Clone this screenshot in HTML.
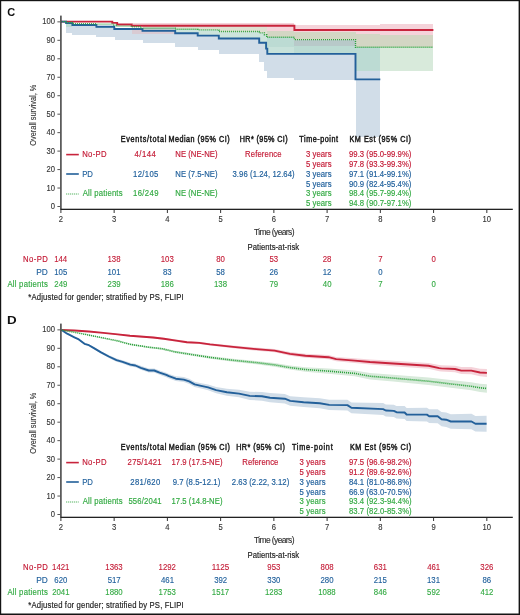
<!DOCTYPE html>
<html><head><meta charset="utf-8"><style>
html,body{margin:0;padding:0;background:#fff;width:520px;height:615px;overflow:hidden}
svg{display:block;font-family:"Liberation Sans",sans-serif;will-change:transform}
</style></head><body>
<svg width="520" height="615" viewBox="0 0 520 615" font-family="Liberation Sans, sans-serif">
<rect width="520" height="615" fill="#fff"/>
<g shape-rendering="crispEdges">
<rect x="66.1" y="23.1" width="6.3" height="3.4" fill="#bcdbd3"/>
<rect x="66.1" y="26.5" width="6.3" height="6.9" fill="#d1dde8"/>
<rect x="72.4" y="25" width="24" height="1.2" fill="#bcdbd3"/>
<rect x="72.4" y="26.2" width="24" height="9.2" fill="#d1dde8"/>
<rect x="96.4" y="26.7" width="15.9" height="0.8" fill="#bcdbd3"/>
<rect x="96.4" y="27.5" width="15.9" height="9.5" fill="#d1dde8"/>
<rect x="112.3" y="26.7" width="2.9" height="10.2" fill="#d1dde8"/>
<rect x="115.2" y="29" width="16.4" height="1.4" fill="#d9cbd3"/>
<rect x="115.2" y="30.4" width="16.4" height="9.2" fill="#d1dde8"/>
<rect x="131.6" y="23.2" width="11.5" height="2.6" fill="#f5d3da"/>
<rect x="131.6" y="29" width="11.5" height="4.8" fill="#d9cbd3"/>
<rect x="131.6" y="33.8" width="11.5" height="5.8" fill="#d1dde8"/>
<rect x="143.1" y="23.2" width="32.1" height="2.6" fill="#f5d3da"/>
<rect x="143.1" y="25.8" width="32.1" height="2.4" fill="#dfe0d2"/>
<rect x="143.1" y="28.2" width="32.1" height="2.7" fill="#b8c9c9"/>
<rect x="143.1" y="30.9" width="32.1" height="3.2" fill="#d9cbd3"/>
<rect x="143.1" y="34.1" width="32.1" height="8.5" fill="#d1dde8"/>
<rect x="175.2" y="23.3" width="22.5" height="2.5" fill="#f5d3da"/>
<rect x="175.2" y="25.8" width="22.5" height="3.5" fill="#dfe0d2"/>
<rect x="175.2" y="29.3" width="22.5" height="3.9" fill="#cde4dc"/>
<rect x="175.2" y="33.2" width="22.5" height="13.3" fill="#d1dde8"/>
<rect x="197.7" y="23.4" width="21.1" height="2.4" fill="#f5d3da"/>
<rect x="197.7" y="25.8" width="21.1" height="4.2" fill="#dfe0d2"/>
<rect x="197.7" y="30" width="21.1" height="5.6" fill="#cde4dc"/>
<rect x="197.7" y="35.6" width="21.1" height="14.1" fill="#d1dde8"/>
<rect x="218.8" y="23.4" width="40.4" height="2.4" fill="#f5d3da"/>
<rect x="218.8" y="25.8" width="40.4" height="5.7" fill="#dfe0d2"/>
<rect x="218.8" y="31.5" width="40.4" height="7" fill="#cde4dc"/>
<rect x="218.8" y="38.5" width="40.4" height="15.6" fill="#d1dde8"/>
<rect x="259.2" y="23.3" width="5.2" height="2.7" fill="#f5d3da"/>
<rect x="259.2" y="26" width="5.2" height="7" fill="#dfe0d2"/>
<rect x="259.2" y="33" width="5.2" height="9.8" fill="#cde4dc"/>
<rect x="259.2" y="42.8" width="5.2" height="19.1" fill="#d1dde8"/>
<rect x="264.4" y="23.3" width="2.3" height="2.7" fill="#f5d3da"/>
<rect x="264.4" y="26" width="2.3" height="8.7" fill="#dfe0d2"/>
<rect x="264.4" y="34.7" width="2.3" height="13.9" fill="#cde4dc"/>
<rect x="264.4" y="48.6" width="2.3" height="22.1" fill="#d1dde8"/>
<rect x="266.7" y="23.3" width="27.7" height="7.2" fill="#f5d3da"/>
<rect x="266.7" y="30.5" width="27.7" height="6.8" fill="#d3d6c4"/>
<rect x="266.7" y="37.3" width="27.7" height="9.5" fill="#bcdbd3"/>
<rect x="266.7" y="46.8" width="27.7" height="5.8" fill="#c8e2da"/>
<rect x="266.7" y="52.6" width="27.7" height="25.7" fill="#d1dde8"/>
<rect x="294.4" y="25.3" width="61.1" height="6.5" fill="#f5d3da"/>
<rect x="294.4" y="31.8" width="61.1" height="7.8" fill="#d3d6c4"/>
<rect x="294.4" y="39.6" width="61.1" height="6.3" fill="#b8c9c9"/>
<rect x="294.4" y="45.9" width="61.1" height="6.7" fill="#bcdbd3"/>
<rect x="294.4" y="52.6" width="61.1" height="26.9" fill="#d1dde8"/>
<rect x="355.5" y="25.3" width="24.8" height="9" fill="#f5d3da"/>
<rect x="355.5" y="34.3" width="24.8" height="12.9" fill="#d3d6c4"/>
<rect x="355.5" y="47.2" width="24.8" height="23.7" fill="#bcdbd3"/>
<rect x="355.5" y="70.9" width="24.8" height="66.1" fill="#d1dde8"/>
<rect x="380.3" y="24.4" width="53.1" height="10.4" fill="#f5d3da"/>
<rect x="380.3" y="34.8" width="53.1" height="12.6" fill="#d3d6c4"/>
<rect x="380.3" y="47.4" width="53.1" height="23.3" fill="#d8eadb"/>
</g>
<path d="M61 21.6H112.3V22.9H117.2V24.5H131.6V25.8H294.4V30H433.4" fill="none" stroke="#c8243c" stroke-width="1.9"/>
<path d="M61 21.6H66.1V23.1H72.4V25H96.4V26.7H114.3V29H142.5V30.9H175.2V33.2H197.7V35.6H218.8V38.5H259.2V42.8H266.1V48.6H267.3V53.9H355.5V79.4H380.3" fill="none" stroke="#23609a" stroke-width="1.9"/>
<path d="M61 21.6H66.1V22.5H72.4V23.7H96.4V24.1H113.8V25.1H116.2V26.1H131.6V26.8H141.2V28.1H175.2V29.2H197.7V29.9H218.8V31.5H259.2V32.9H264.4V34.7H266.7V37.3H294.4V39.6H355.5V47.2H433.4" fill="none" stroke="#2ea33e" stroke-width="1.4" stroke-dasharray="1 1"/>
<text x="7.35" y="15.6" font-size="11.3" fill="#111" font-weight="bold" textLength="7.95" lengthAdjust="spacingAndGlyphs">C</text>
<rect x="60.1" y="15.6" width="1.6" height="194.2" fill="#4a4a4a"/>
<rect x="57.4" y="206" width="3" height="1" fill="#555"/>
<text x="50.86" y="209" font-size="8.2" fill="#333" textLength="4.24" lengthAdjust="spacingAndGlyphs" stroke="#333" stroke-width="0.12">0</text>
<rect x="57.4" y="187.53" width="3" height="1" fill="#555"/>
<text x="46.62" y="190.53" font-size="8.2" fill="#333" textLength="8.48" lengthAdjust="spacingAndGlyphs" stroke="#333" stroke-width="0.12">10</text>
<rect x="57.4" y="169.07" width="3" height="1" fill="#555"/>
<text x="46.62" y="172.07" font-size="8.2" fill="#333" textLength="8.48" lengthAdjust="spacingAndGlyphs" stroke="#333" stroke-width="0.12">20</text>
<rect x="57.4" y="150.6" width="3" height="1" fill="#555"/>
<text x="46.62" y="153.6" font-size="8.2" fill="#333" textLength="8.48" lengthAdjust="spacingAndGlyphs" stroke="#333" stroke-width="0.12">30</text>
<rect x="57.4" y="132.14" width="3" height="1" fill="#555"/>
<text x="46.62" y="135.14" font-size="8.2" fill="#333" textLength="8.48" lengthAdjust="spacingAndGlyphs" stroke="#333" stroke-width="0.12">40</text>
<rect x="57.4" y="113.67" width="3" height="1" fill="#555"/>
<text x="46.62" y="116.67" font-size="8.2" fill="#333" textLength="8.48" lengthAdjust="spacingAndGlyphs" stroke="#333" stroke-width="0.12">50</text>
<rect x="57.4" y="95.21" width="3" height="1" fill="#555"/>
<text x="46.62" y="98.21" font-size="8.2" fill="#333" textLength="8.48" lengthAdjust="spacingAndGlyphs" stroke="#333" stroke-width="0.12">60</text>
<rect x="57.4" y="76.75" width="3" height="1" fill="#555"/>
<text x="46.62" y="79.75" font-size="8.2" fill="#333" textLength="8.48" lengthAdjust="spacingAndGlyphs" stroke="#333" stroke-width="0.12">70</text>
<rect x="57.4" y="58.28" width="3" height="1" fill="#555"/>
<text x="46.62" y="61.28" font-size="8.2" fill="#333" textLength="8.48" lengthAdjust="spacingAndGlyphs" stroke="#333" stroke-width="0.12">80</text>
<rect x="57.4" y="39.81" width="3" height="1" fill="#555"/>
<text x="46.62" y="42.81" font-size="8.2" fill="#333" textLength="8.48" lengthAdjust="spacingAndGlyphs" stroke="#333" stroke-width="0.12">90</text>
<rect x="57.4" y="21.35" width="3" height="1" fill="#555"/>
<text x="42.37" y="24.35" font-size="8.2" fill="#333" textLength="12.72" lengthAdjust="spacingAndGlyphs" stroke="#333" stroke-width="0.12">100</text>
<rect x="60.5" y="208.7" width="452.3" height="1.3" fill="#222"/>
<rect x="60.4" y="209.8" width="1" height="3.2" fill="#333"/>
<text x="58.78" y="222" font-size="8.3" fill="#333" textLength="4.25" lengthAdjust="spacingAndGlyphs" stroke="#333" stroke-width="0.12">2</text>
<rect x="113.64" y="209.8" width="1" height="3.2" fill="#333"/>
<text x="112.04" y="222" font-size="8.3" fill="#333" textLength="4.25" lengthAdjust="spacingAndGlyphs" stroke="#333" stroke-width="0.12">3</text>
<rect x="166.88" y="209.8" width="1" height="3.2" fill="#333"/>
<text x="165.28" y="222" font-size="8.3" fill="#333" textLength="4.25" lengthAdjust="spacingAndGlyphs" stroke="#333" stroke-width="0.12">4</text>
<rect x="220.12" y="209.8" width="1" height="3.2" fill="#333"/>
<text x="218.5" y="222" font-size="8.3" fill="#333" textLength="4.25" lengthAdjust="spacingAndGlyphs" stroke="#333" stroke-width="0.12">5</text>
<rect x="273.36" y="209.8" width="1" height="3.2" fill="#333"/>
<text x="271.71" y="222" font-size="8.3" fill="#333" textLength="4.25" lengthAdjust="spacingAndGlyphs" stroke="#333" stroke-width="0.12">6</text>
<rect x="326.6" y="209.8" width="1" height="3.2" fill="#333"/>
<text x="324.97" y="222" font-size="8.3" fill="#333" textLength="4.25" lengthAdjust="spacingAndGlyphs" stroke="#333" stroke-width="0.12">7</text>
<rect x="379.84" y="209.8" width="1" height="3.2" fill="#333"/>
<text x="378.22" y="222" font-size="8.3" fill="#333" textLength="4.25" lengthAdjust="spacingAndGlyphs" stroke="#333" stroke-width="0.12">8</text>
<rect x="433.08" y="209.8" width="1" height="3.2" fill="#333"/>
<text x="431.46" y="222" font-size="8.3" fill="#333" textLength="4.25" lengthAdjust="spacingAndGlyphs" stroke="#333" stroke-width="0.12">9</text>
<rect x="486.32" y="209.8" width="1" height="3.2" fill="#333"/>
<text x="482.43" y="222" font-size="8.3" fill="#333" textLength="8.49" lengthAdjust="spacingAndGlyphs" stroke="#333" stroke-width="0.12">10</text>
<g transform="translate(36.3 0) rotate(-90)">
<text x="-145.65" y="0" font-size="9.3" fill="#333" stroke="#333" stroke-width="0.1" textLength="61.01" lengthAdjust="spacingAndGlyphs">Overall survival, %</text>
</g>
<text transform="translate(0 234.7) scale(1 1.09)" x="254.01" y="0" font-size="8.46" fill="#333" stroke="#333" stroke-width="0.15" textLength="40.51" lengthAdjust="spacing">Time (years)</text>
<text transform="translate(0 250.3) scale(1 1.09)" x="247.57" y="0" font-size="7.73" fill="#222" stroke="#222" stroke-width="0.15" textLength="51.62" lengthAdjust="spacing">Patients-at-risk</text>
<text transform="translate(0 262.4) scale(1 1.09)" x="23.12" y="0" font-size="7.73" fill="#c41a35" stroke="#c41a35" stroke-width="0.15" textLength="24.75" lengthAdjust="spacing">No-PD</text>
<text x="54.2" y="262.4" font-size="8.4" fill="#c41a35" textLength="13.03" lengthAdjust="spacingAndGlyphs" stroke="#c41a35" stroke-width="0.12">144</text>
<text x="107.5" y="262.4" font-size="8.4" fill="#c41a35" textLength="13.03" lengthAdjust="spacingAndGlyphs" stroke="#c41a35" stroke-width="0.12">138</text>
<text x="160.74" y="262.4" font-size="8.4" fill="#c41a35" textLength="13.03" lengthAdjust="spacingAndGlyphs" stroke="#c41a35" stroke-width="0.12">103</text>
<text x="216.26" y="262.4" font-size="8.4" fill="#c41a35" textLength="8.69" lengthAdjust="spacingAndGlyphs" stroke="#c41a35" stroke-width="0.12">80</text>
<text x="269.53" y="262.4" font-size="8.4" fill="#c41a35" textLength="8.69" lengthAdjust="spacingAndGlyphs" stroke="#c41a35" stroke-width="0.12">53</text>
<text x="322.73" y="262.4" font-size="8.4" fill="#c41a35" textLength="8.69" lengthAdjust="spacingAndGlyphs" stroke="#c41a35" stroke-width="0.12">28</text>
<text x="378.16" y="262.4" font-size="8.4" fill="#c41a35" textLength="4.34" lengthAdjust="spacingAndGlyphs" stroke="#c41a35" stroke-width="0.12">7</text>
<text x="431.41" y="262.4" font-size="8.4" fill="#c41a35" textLength="4.34" lengthAdjust="spacingAndGlyphs" stroke="#c41a35" stroke-width="0.12">0</text>
<text x="36.32" y="274.9" font-size="8.4" fill="#20609c" textLength="11.58" lengthAdjust="spacingAndGlyphs" stroke="#20609c" stroke-width="0.12">PD</text>
<text x="54.25" y="274.9" font-size="8.4" fill="#20609c" textLength="13.03" lengthAdjust="spacingAndGlyphs" stroke="#20609c" stroke-width="0.12">105</text>
<text x="107.52" y="274.9" font-size="8.4" fill="#20609c" textLength="13.03" lengthAdjust="spacingAndGlyphs" stroke="#20609c" stroke-width="0.12">101</text>
<text x="163.04" y="274.9" font-size="8.4" fill="#20609c" textLength="8.69" lengthAdjust="spacingAndGlyphs" stroke="#20609c" stroke-width="0.12">83</text>
<text x="216.29" y="274.9" font-size="8.4" fill="#20609c" textLength="8.69" lengthAdjust="spacingAndGlyphs" stroke="#20609c" stroke-width="0.12">58</text>
<text x="269.49" y="274.9" font-size="8.4" fill="#20609c" textLength="8.69" lengthAdjust="spacingAndGlyphs" stroke="#20609c" stroke-width="0.12">26</text>
<text x="322.65" y="274.9" font-size="8.4" fill="#20609c" textLength="8.69" lengthAdjust="spacingAndGlyphs" stroke="#20609c" stroke-width="0.12">12</text>
<text x="378.17" y="274.9" font-size="8.4" fill="#20609c" textLength="4.34" lengthAdjust="spacingAndGlyphs" stroke="#20609c" stroke-width="0.12">0</text>
<text transform="translate(0 287.4) scale(1 1.09)" x="7.48" y="0" font-size="7.73" fill="#32aa42" stroke="#32aa42" stroke-width="0.15" textLength="40.29" lengthAdjust="spacing">All patients</text>
<text x="54.37" y="287.4" font-size="8.4" fill="#32aa42" textLength="13.03" lengthAdjust="spacingAndGlyphs" stroke="#32aa42" stroke-width="0.12">249</text>
<text x="107.61" y="287.4" font-size="8.4" fill="#32aa42" textLength="13.03" lengthAdjust="spacingAndGlyphs" stroke="#32aa42" stroke-width="0.12">239</text>
<text x="160.74" y="287.4" font-size="8.4" fill="#32aa42" textLength="13.03" lengthAdjust="spacingAndGlyphs" stroke="#32aa42" stroke-width="0.12">186</text>
<text x="213.98" y="287.4" font-size="8.4" fill="#32aa42" textLength="13.03" lengthAdjust="spacingAndGlyphs" stroke="#32aa42" stroke-width="0.12">138</text>
<text x="269.5" y="287.4" font-size="8.4" fill="#32aa42" textLength="8.69" lengthAdjust="spacingAndGlyphs" stroke="#32aa42" stroke-width="0.12">79</text>
<text x="322.82" y="287.4" font-size="8.4" fill="#32aa42" textLength="8.69" lengthAdjust="spacingAndGlyphs" stroke="#32aa42" stroke-width="0.12">40</text>
<text x="378.16" y="287.4" font-size="8.4" fill="#32aa42" textLength="4.34" lengthAdjust="spacingAndGlyphs" stroke="#32aa42" stroke-width="0.12">7</text>
<text x="431.41" y="287.4" font-size="8.4" fill="#32aa42" textLength="4.34" lengthAdjust="spacingAndGlyphs" stroke="#32aa42" stroke-width="0.12">0</text>
<text transform="translate(0 299.5) scale(1 1.09)" x="28.28" y="0" font-size="7.73" fill="#222" stroke="#222" stroke-width="0.15" textLength="155.44" lengthAdjust="spacing">*Adjusted for gender; stratified by PS, FLIPI</text>
<text transform="translate(0 142) scale(1 1.14)" x="120.66" y="0" font-size="7.22" fill="#1a1a1a" stroke="#1a1a1a" stroke-width="0.4" textLength="45.62" lengthAdjust="spacing">Events/total</text>
<text transform="translate(0 142) scale(1 1.14)" x="168.41" y="0" font-size="7.22" fill="#1a1a1a" stroke="#1a1a1a" stroke-width="0.4" textLength="61.24" lengthAdjust="spacing">Median (95% CI)</text>
<text transform="translate(0 142) scale(1 1.14)" x="239.71" y="0" font-size="7.22" fill="#1a1a1a" stroke="#1a1a1a" stroke-width="0.4" textLength="47.94" lengthAdjust="spacing">HR* (95% CI)</text>
<text transform="translate(0 142) scale(1 1.14)" x="299.34" y="0" font-size="7.22" fill="#1a1a1a" stroke="#1a1a1a" stroke-width="0.4" textLength="38.71" lengthAdjust="spacing">Time-point</text>
<text transform="translate(0 142) scale(1 1.14)" x="349.41" y="0" font-size="7.22" fill="#1a1a1a" stroke="#1a1a1a" stroke-width="0.4" textLength="61.54" lengthAdjust="spacing">KM Est (95% CI)</text>
<rect x="66.2" y="153.8" width="12.6" height="1.6" fill="#c8243c"/>
<rect x="66.2" y="173.2" width="12.6" height="1.6" fill="#23609a"/>
<line x1="66.2" y1="194" x2="78.8" y2="194" stroke="#2ea33e" stroke-width="1.2" stroke-dasharray="1 1"/>
<text transform="translate(0 157.3) scale(1 1.09)" x="82.17" y="0" font-size="7.73" fill="#c41a35" stroke="#c41a35" stroke-width="0.15" textLength="24.4" lengthAdjust="spacing">No-PD</text>
<text x="82.16" y="176.8" font-size="8.4" fill="#20609c" textLength="10.81" lengthAdjust="spacingAndGlyphs" stroke="#20609c" stroke-width="0.12">PD</text>
<text transform="translate(0 196.4) scale(1 1.09)" x="82.78" y="0" font-size="7.73" fill="#32aa42" stroke="#32aa42" stroke-width="0.15" textLength="39.79" lengthAdjust="spacing">All patients</text>
<text transform="translate(0 157.3) scale(1 1.09)" x="134.62" y="0" font-size="7.73" fill="#c41a35" stroke="#c41a35" stroke-width="0.15" textLength="21.2" lengthAdjust="spacing">4/144</text>
<text transform="translate(0 157.3) scale(1 1.09)" x="175.37" y="0" font-size="7.73" fill="#c41a35" stroke="#c41a35" stroke-width="0.15" textLength="42.11" lengthAdjust="spacing">NE (NE-NE)</text>
<text transform="translate(0 157.3) scale(1 1.09)" x="245.07" y="0" font-size="7.73" fill="#c41a35" stroke="#c41a35" stroke-width="0.15" textLength="36.58" lengthAdjust="spacing">Reference</text>
<text transform="translate(0 176.8) scale(1 1.09)" x="133.01" y="0" font-size="7.73" fill="#20609c" stroke="#20609c" stroke-width="0.15" textLength="25.41" lengthAdjust="spacing">12/105</text>
<text transform="translate(0 176.8) scale(1 1.09)" x="175.37" y="0" font-size="7.73" fill="#20609c" stroke="#20609c" stroke-width="0.15" textLength="42.11" lengthAdjust="spacing">NE (7.5-NE)</text>
<text transform="translate(0 176.8) scale(1 1.09)" x="232.51" y="0" font-size="7.73" fill="#20609c" stroke="#20609c" stroke-width="0.15" textLength="62.17" lengthAdjust="spacing">3.96 (1.24, 12.64)</text>
<text transform="translate(0 196.4) scale(1 1.09)" x="133.01" y="0" font-size="7.73" fill="#32aa42" stroke="#32aa42" stroke-width="0.15" textLength="25.45" lengthAdjust="spacing">16/249</text>
<text transform="translate(0 196.4) scale(1 1.09)" x="175.37" y="0" font-size="7.73" fill="#32aa42" stroke="#32aa42" stroke-width="0.15" textLength="42.11" lengthAdjust="spacing">NE (NE-NE)</text>
<text transform="translate(0 157.4) scale(1 1.09)" x="306.11" y="0" font-size="7.73" fill="#c41a35" stroke="#c41a35" stroke-width="0.15" textLength="25.42" lengthAdjust="spacing">3 years</text>
<text transform="translate(0 157.4) scale(1 1.09)" x="349.04" y="0" font-size="7.73" fill="#c41a35" stroke="#c41a35" stroke-width="0.15" textLength="62.34" lengthAdjust="spacing">99.3 (95.0-99.9%)</text>
<text transform="translate(0 167.1) scale(1 1.09)" x="306.09" y="0" font-size="7.73" fill="#c41a35" stroke="#c41a35" stroke-width="0.15" textLength="25.44" lengthAdjust="spacing">5 years</text>
<text transform="translate(0 167.1) scale(1 1.09)" x="349.04" y="0" font-size="7.73" fill="#c41a35" stroke="#c41a35" stroke-width="0.15" textLength="62.34" lengthAdjust="spacing">97.8 (93.3-99.3%)</text>
<text transform="translate(0 176.8) scale(1 1.09)" x="306.11" y="0" font-size="7.73" fill="#20609c" stroke="#20609c" stroke-width="0.15" textLength="25.42" lengthAdjust="spacing">3 years</text>
<text transform="translate(0 176.8) scale(1 1.09)" x="349.04" y="0" font-size="7.73" fill="#20609c" stroke="#20609c" stroke-width="0.15" textLength="62.34" lengthAdjust="spacing">97.1 (91.4-99.1%)</text>
<text transform="translate(0 186.5) scale(1 1.09)" x="306.09" y="0" font-size="7.73" fill="#20609c" stroke="#20609c" stroke-width="0.15" textLength="25.44" lengthAdjust="spacing">5 years</text>
<text transform="translate(0 186.5) scale(1 1.09)" x="349.04" y="0" font-size="7.73" fill="#20609c" stroke="#20609c" stroke-width="0.15" textLength="62.34" lengthAdjust="spacing">90.9 (82.4-95.4%)</text>
<text transform="translate(0 196.2) scale(1 1.09)" x="306.11" y="0" font-size="7.73" fill="#32aa42" stroke="#32aa42" stroke-width="0.15" textLength="25.42" lengthAdjust="spacing">3 years</text>
<text transform="translate(0 196.2) scale(1 1.09)" x="349.04" y="0" font-size="7.73" fill="#32aa42" stroke="#32aa42" stroke-width="0.15" textLength="62.34" lengthAdjust="spacing">98.4 (95.7-99.4%)</text>
<text transform="translate(0 205.9) scale(1 1.09)" x="306.09" y="0" font-size="7.73" fill="#32aa42" stroke="#32aa42" stroke-width="0.15" textLength="25.44" lengthAdjust="spacing">5 years</text>
<text transform="translate(0 205.9) scale(1 1.09)" x="349.04" y="0" font-size="7.73" fill="#32aa42" stroke="#32aa42" stroke-width="0.15" textLength="62.34" lengthAdjust="spacing">94.8 (90.7-97.1%)</text>
<g style="isolation:isolate">
<path d="M61.5 329.98L67.2 333.51L74.4 336.89L78.8 338.85L84.5 343.08L88.9 344.34L93.9 347.09L101 351.18L108.8 355.12L116.5 358.57L122.6 360.25L130.3 362.8L135.4 363.63L140.8 365.86L148.8 368.46L154.2 368.39L159.6 370.42L166.3 372.63L169 373.9L175.8 376.31L183.8 377.11L189.2 378.84L194.6 381.67L200 382.9L208.1 384.48L216.2 386.96L226.9 388.77L239 389.84L249.8 391.85L261.9 391.92L270 393.1L284.8 393.97L290.2 396.13L303.6 397.31L319.8 398.17L329.2 399.79L347.4 399.76L351.4 402.39L383.1 403.1L385.8 404.45L393.8 404.7L396.5 405.95L404.6 406.1L406.6 408.06L426.9 407.77L429.2 409.33L437.7 409.16L441.5 412.09L446.2 412.49L450.8 414.21L471.5 413.8L475.4 416.03L486.6 415.81L486.6 431.79L475.4 431.57L471.5 429.2L450.8 428.79L446.2 426.91L441.5 426.31L437.7 423.24L429.2 423.07L426.9 421.43L406.6 420.94L404.6 418.9L396.5 418.45L393.8 417.1L385.8 416.55L383.1 415.1L351.4 413.21L347.4 410.44L329.2 410.01L319.8 408.23L303.6 407.09L290.2 405.67L284.8 403.43L270 402.3L261.9 400.68L249.8 399.95L239 397.36L226.9 395.63L216.2 393.24L208.1 390.32L200 388.3L194.6 386.93L189.2 383.96L183.8 382.09L175.8 381.09L169 378.5L166.3 377.17L159.6 374.78L154.2 372.61L148.8 372.54L140.8 369.74L135.4 367.37L130.3 366.4L122.6 363.55L116.5 361.63L108.8 357.88L101 353.62L93.9 349.11L88.9 346.06L84.5 344.52L78.8 339.95L74.4 337.71L67.2 333.89L61.5 330.02Z" fill="#d1dde8"/>
<path d="M61.5 329.99L74.4 332.04L88.9 334.78L103.3 337.51L117.7 340.24L130 343.5L148.5 346.28L162.3 347.8L174.6 350.72L191.5 353.32L210 356.1L233.1 358.8L256.2 360.9L274.6 363.03L290 365.6L305.4 367.27L328.5 368.52L354.6 370.43L370 373L393.1 374.71L428.5 377.51L455 380.48L471.3 382.24L480 383.66L486.9 384.3L486.9 392.7L480 391.94L471.3 390.36L455 388.32L428.5 384.89L393.1 381.49L370 379.4L354.6 376.37L328.5 373.68L305.4 371.73L290 369.6L274.6 366.77L256.2 364.3L233.1 361.8L210 358.7L191.5 355.68L174.6 352.88L162.3 349.8L148.5 348.12L130 345.1L117.7 341.56L103.3 338.49L88.9 335.42L74.4 332.36L61.5 330.01Z" fill="#d8eadb"/>
<path d="M61.5 329.99L74.4 330.34L88.9 331.18L103.3 332.41L117.7 333.74L130 334.9L153.1 336.58L163.8 337.83L176.2 339.57L186.9 341.12L199.2 341.75L210 343.2L233.1 345.53L256.2 347.55L274.6 348.92L290 352.1L305.4 353.77L328.5 355.06L336.2 356.9L354.6 358.23L370 359.5L393.1 360.87L428.5 362.96L439.2 365.06L441.3 365.32L455 365.65L461.3 367.12L471.3 366.92L480 368.64L486.9 368.9L486.9 376.9L480 376.36L471.3 374.28L461.3 374.08L455 372.35L441.3 371.48L439.2 371.14L428.5 368.64L393.1 366.13L370 364.5L354.6 362.97L336.2 361.3L328.5 359.34L305.4 357.63L290 355.7L274.6 352.28L256.2 350.65L233.1 348.27L210 345.6L199.2 344.05L186.9 343.28L176.2 341.63L163.8 339.77L153.1 338.42L130 336.5L117.7 335.06L103.3 333.39L88.9 331.82L74.4 330.66L61.5 330.01Z" fill="#f5d3da"/>
</g>
<path d="M61.5 330L74.4 330.5L88.9 331.5L103.3 332.9L117.7 334.4L130 335.7L153.1 337.5L163.8 338.8L176.2 340.6L186.9 342.2L199.2 342.9L210 344.4L233.1 346.9L256.2 349.1L274.6 350.6L290 353.9L305.4 355.7L328.5 357.2L336.2 359.1L354.6 360.6L370 362L393.1 363.5L428.5 365.8L439.2 368.1L441.3 368.4L455 369L461.3 370.6L471.3 370.6L480 372.5L486.9 372.9" fill="none" stroke="#c8243c" stroke-width="1.9" stroke-linejoin="round"/>
<path d="M61.5 330L67.2 333.7L74.4 337.3L78.8 339.4L84.5 343.8L88.9 345.2L93.9 348.1L101 352.4L108.8 356.5L116.5 360.1L122.6 361.9L130.3 364.6L135.4 365.5L140.8 367.8L148.8 370.5L154.2 370.5L159.6 372.6L166.3 374.9L169 376.2L175.8 378.7L183.8 379.6L189.2 381.4L194.6 384.3L200 385.6L208.1 387.4L216.2 390.1L226.9 392.2L239 393.6L249.8 395.9L261.9 396.3L270 397.7L284.8 398.7L290.2 400.9L303.6 402.2L319.8 403.2L329.2 404.9L347.4 405.1L351.4 407.8L383.1 409.1L385.8 410.5L393.8 410.9L396.5 412.2L404.6 412.5L406.6 414.5L426.9 414.6L429.2 416.2L437.7 416.2L441.5 419.2L446.2 419.7L450.8 421.5L471.5 421.5L475.4 423.8L486.6 423.8" fill="none" stroke="#23609a" stroke-width="1.9" stroke-linejoin="round"/>
<path d="M61.5 330L74.4 332.2L88.9 335.1L103.3 338L117.7 340.9L130 344.3L148.5 347.2L162.3 348.8L174.6 351.8L191.5 354.5L210 357.4L233.1 360.3L256.2 362.6L274.6 364.9L290 367.6L305.4 369.5L328.5 371.1L354.6 373.4L370 376.2L393.1 378.1L428.5 381.2L455 384.4L471.3 386.3L480 387.8L486.9 388.5" fill="none" stroke="#2ea33e" stroke-width="1.6" stroke-dasharray="1.1 0.9"/>
<text x="6.91" y="323.6" font-size="11.3" fill="#111" font-weight="bold" textLength="9.66" lengthAdjust="spacingAndGlyphs">D</text>
<rect x="60.1" y="323.6" width="1.6" height="194.2" fill="#4a4a4a"/>
<rect x="57.4" y="514" width="3" height="1" fill="#555"/>
<text x="50.86" y="517" font-size="8.2" fill="#333" textLength="4.24" lengthAdjust="spacingAndGlyphs" stroke="#333" stroke-width="0.12">0</text>
<rect x="57.4" y="495.54" width="3" height="1" fill="#555"/>
<text x="46.62" y="498.54" font-size="8.2" fill="#333" textLength="8.48" lengthAdjust="spacingAndGlyphs" stroke="#333" stroke-width="0.12">10</text>
<rect x="57.4" y="477.07" width="3" height="1" fill="#555"/>
<text x="46.62" y="480.07" font-size="8.2" fill="#333" textLength="8.48" lengthAdjust="spacingAndGlyphs" stroke="#333" stroke-width="0.12">20</text>
<rect x="57.4" y="458.61" width="3" height="1" fill="#555"/>
<text x="46.62" y="461.61" font-size="8.2" fill="#333" textLength="8.48" lengthAdjust="spacingAndGlyphs" stroke="#333" stroke-width="0.12">30</text>
<rect x="57.4" y="440.14" width="3" height="1" fill="#555"/>
<text x="46.62" y="443.14" font-size="8.2" fill="#333" textLength="8.48" lengthAdjust="spacingAndGlyphs" stroke="#333" stroke-width="0.12">40</text>
<rect x="57.4" y="421.68" width="3" height="1" fill="#555"/>
<text x="46.62" y="424.68" font-size="8.2" fill="#333" textLength="8.48" lengthAdjust="spacingAndGlyphs" stroke="#333" stroke-width="0.12">50</text>
<rect x="57.4" y="403.21" width="3" height="1" fill="#555"/>
<text x="46.62" y="406.21" font-size="8.2" fill="#333" textLength="8.48" lengthAdjust="spacingAndGlyphs" stroke="#333" stroke-width="0.12">60</text>
<rect x="57.4" y="384.75" width="3" height="1" fill="#555"/>
<text x="46.62" y="387.75" font-size="8.2" fill="#333" textLength="8.48" lengthAdjust="spacingAndGlyphs" stroke="#333" stroke-width="0.12">70</text>
<rect x="57.4" y="366.28" width="3" height="1" fill="#555"/>
<text x="46.62" y="369.28" font-size="8.2" fill="#333" textLength="8.48" lengthAdjust="spacingAndGlyphs" stroke="#333" stroke-width="0.12">80</text>
<rect x="57.4" y="347.81" width="3" height="1" fill="#555"/>
<text x="46.62" y="350.81" font-size="8.2" fill="#333" textLength="8.48" lengthAdjust="spacingAndGlyphs" stroke="#333" stroke-width="0.12">90</text>
<rect x="57.4" y="329.35" width="3" height="1" fill="#555"/>
<text x="42.37" y="332.35" font-size="8.2" fill="#333" textLength="12.72" lengthAdjust="spacingAndGlyphs" stroke="#333" stroke-width="0.12">100</text>
<rect x="60.5" y="516.7" width="452.3" height="1.3" fill="#222"/>
<rect x="60.4" y="517.8" width="1" height="3.2" fill="#333"/>
<text x="58.78" y="530" font-size="8.3" fill="#333" textLength="4.25" lengthAdjust="spacingAndGlyphs" stroke="#333" stroke-width="0.12">2</text>
<rect x="113.64" y="517.8" width="1" height="3.2" fill="#333"/>
<text x="112.04" y="530" font-size="8.3" fill="#333" textLength="4.25" lengthAdjust="spacingAndGlyphs" stroke="#333" stroke-width="0.12">3</text>
<rect x="166.88" y="517.8" width="1" height="3.2" fill="#333"/>
<text x="165.28" y="530" font-size="8.3" fill="#333" textLength="4.25" lengthAdjust="spacingAndGlyphs" stroke="#333" stroke-width="0.12">4</text>
<rect x="220.12" y="517.8" width="1" height="3.2" fill="#333"/>
<text x="218.5" y="530" font-size="8.3" fill="#333" textLength="4.25" lengthAdjust="spacingAndGlyphs" stroke="#333" stroke-width="0.12">5</text>
<rect x="273.36" y="517.8" width="1" height="3.2" fill="#333"/>
<text x="271.71" y="530" font-size="8.3" fill="#333" textLength="4.25" lengthAdjust="spacingAndGlyphs" stroke="#333" stroke-width="0.12">6</text>
<rect x="326.6" y="517.8" width="1" height="3.2" fill="#333"/>
<text x="324.97" y="530" font-size="8.3" fill="#333" textLength="4.25" lengthAdjust="spacingAndGlyphs" stroke="#333" stroke-width="0.12">7</text>
<rect x="379.84" y="517.8" width="1" height="3.2" fill="#333"/>
<text x="378.22" y="530" font-size="8.3" fill="#333" textLength="4.25" lengthAdjust="spacingAndGlyphs" stroke="#333" stroke-width="0.12">8</text>
<rect x="433.08" y="517.8" width="1" height="3.2" fill="#333"/>
<text x="431.46" y="530" font-size="8.3" fill="#333" textLength="4.25" lengthAdjust="spacingAndGlyphs" stroke="#333" stroke-width="0.12">9</text>
<rect x="486.32" y="517.8" width="1" height="3.2" fill="#333"/>
<text x="482.43" y="530" font-size="8.3" fill="#333" textLength="8.49" lengthAdjust="spacingAndGlyphs" stroke="#333" stroke-width="0.12">10</text>
<g transform="translate(36.3 308) rotate(-90)">
<text x="-145.65" y="0" font-size="9.3" fill="#333" stroke="#333" stroke-width="0.1" textLength="61.01" lengthAdjust="spacingAndGlyphs">Overall survival, %</text>
</g>
<text transform="translate(0 542.7) scale(1 1.09)" x="254.01" y="0" font-size="8.46" fill="#333" stroke="#333" stroke-width="0.15" textLength="40.51" lengthAdjust="spacing">Time (years)</text>
<text transform="translate(0 558.3) scale(1 1.09)" x="247.57" y="0" font-size="7.73" fill="#222" stroke="#222" stroke-width="0.15" textLength="51.62" lengthAdjust="spacing">Patients-at-risk</text>
<text transform="translate(0 570.4) scale(1 1.09)" x="23.12" y="0" font-size="7.73" fill="#c41a35" stroke="#c41a35" stroke-width="0.15" textLength="24.75" lengthAdjust="spacing">No-PD</text>
<text x="52.1" y="570.4" font-size="8.4" fill="#c41a35" textLength="17.38" lengthAdjust="spacingAndGlyphs" stroke="#c41a35" stroke-width="0.12">1421</text>
<text x="105.32" y="570.4" font-size="8.4" fill="#c41a35" textLength="17.38" lengthAdjust="spacingAndGlyphs" stroke="#c41a35" stroke-width="0.12">1363</text>
<text x="158.59" y="570.4" font-size="8.4" fill="#c41a35" textLength="17.38" lengthAdjust="spacingAndGlyphs" stroke="#c41a35" stroke-width="0.12">1292</text>
<text x="211.8" y="570.4" font-size="8.4" fill="#c41a35" textLength="17.38" lengthAdjust="spacingAndGlyphs" stroke="#c41a35" stroke-width="0.12">1125</text>
<text x="267.33" y="570.4" font-size="8.4" fill="#c41a35" textLength="13.03" lengthAdjust="spacingAndGlyphs" stroke="#c41a35" stroke-width="0.12">953</text>
<text x="320.58" y="570.4" font-size="8.4" fill="#c41a35" textLength="13.03" lengthAdjust="spacingAndGlyphs" stroke="#c41a35" stroke-width="0.12">808</text>
<text x="373.82" y="570.4" font-size="8.4" fill="#c41a35" textLength="13.03" lengthAdjust="spacingAndGlyphs" stroke="#c41a35" stroke-width="0.12">631</text>
<text x="427.16" y="570.4" font-size="8.4" fill="#c41a35" textLength="13.03" lengthAdjust="spacingAndGlyphs" stroke="#c41a35" stroke-width="0.12">461</text>
<text x="480.33" y="570.4" font-size="8.4" fill="#c41a35" textLength="13.03" lengthAdjust="spacingAndGlyphs" stroke="#c41a35" stroke-width="0.12">326</text>
<text x="36.32" y="582.9" font-size="8.4" fill="#20609c" textLength="11.58" lengthAdjust="spacingAndGlyphs" stroke="#20609c" stroke-width="0.12">PD</text>
<text x="54.34" y="582.9" font-size="8.4" fill="#20609c" textLength="13.03" lengthAdjust="spacingAndGlyphs" stroke="#20609c" stroke-width="0.12">620</text>
<text x="107.66" y="582.9" font-size="8.4" fill="#20609c" textLength="13.03" lengthAdjust="spacingAndGlyphs" stroke="#20609c" stroke-width="0.12">517</text>
<text x="160.96" y="582.9" font-size="8.4" fill="#20609c" textLength="13.03" lengthAdjust="spacingAndGlyphs" stroke="#20609c" stroke-width="0.12">461</text>
<text x="214.15" y="582.9" font-size="8.4" fill="#20609c" textLength="13.03" lengthAdjust="spacingAndGlyphs" stroke="#20609c" stroke-width="0.12">392</text>
<text x="267.35" y="582.9" font-size="8.4" fill="#20609c" textLength="13.03" lengthAdjust="spacingAndGlyphs" stroke="#20609c" stroke-width="0.12">330</text>
<text x="320.54" y="582.9" font-size="8.4" fill="#20609c" textLength="13.03" lengthAdjust="spacingAndGlyphs" stroke="#20609c" stroke-width="0.12">280</text>
<text x="373.79" y="582.9" font-size="8.4" fill="#20609c" textLength="13.03" lengthAdjust="spacingAndGlyphs" stroke="#20609c" stroke-width="0.12">215</text>
<text x="426.96" y="582.9" font-size="8.4" fill="#20609c" textLength="13.03" lengthAdjust="spacingAndGlyphs" stroke="#20609c" stroke-width="0.12">131</text>
<text x="482.48" y="582.9" font-size="8.4" fill="#20609c" textLength="8.69" lengthAdjust="spacingAndGlyphs" stroke="#20609c" stroke-width="0.12">86</text>
<text transform="translate(0 595.4) scale(1 1.09)" x="7.48" y="0" font-size="7.73" fill="#32aa42" stroke="#32aa42" stroke-width="0.15" textLength="40.29" lengthAdjust="spacing">All patients</text>
<text x="52.2" y="595.4" font-size="8.4" fill="#32aa42" textLength="17.38" lengthAdjust="spacingAndGlyphs" stroke="#32aa42" stroke-width="0.12">2041</text>
<text x="105.31" y="595.4" font-size="8.4" fill="#32aa42" textLength="17.38" lengthAdjust="spacingAndGlyphs" stroke="#32aa42" stroke-width="0.12">1880</text>
<text x="158.56" y="595.4" font-size="8.4" fill="#32aa42" textLength="17.38" lengthAdjust="spacingAndGlyphs" stroke="#32aa42" stroke-width="0.12">1753</text>
<text x="211.83" y="595.4" font-size="8.4" fill="#32aa42" textLength="17.38" lengthAdjust="spacingAndGlyphs" stroke="#32aa42" stroke-width="0.12">1517</text>
<text x="265.04" y="595.4" font-size="8.4" fill="#32aa42" textLength="17.38" lengthAdjust="spacingAndGlyphs" stroke="#32aa42" stroke-width="0.12">1283</text>
<text x="318.28" y="595.4" font-size="8.4" fill="#32aa42" textLength="17.38" lengthAdjust="spacingAndGlyphs" stroke="#32aa42" stroke-width="0.12">1088</text>
<text x="373.82" y="595.4" font-size="8.4" fill="#32aa42" textLength="13.03" lengthAdjust="spacingAndGlyphs" stroke="#32aa42" stroke-width="0.12">846</text>
<text x="427.1" y="595.4" font-size="8.4" fill="#32aa42" textLength="13.03" lengthAdjust="spacingAndGlyphs" stroke="#32aa42" stroke-width="0.12">592</text>
<text x="480.41" y="595.4" font-size="8.4" fill="#32aa42" textLength="13.03" lengthAdjust="spacingAndGlyphs" stroke="#32aa42" stroke-width="0.12">412</text>
<text transform="translate(0 607.5) scale(1 1.09)" x="28.28" y="0" font-size="7.73" fill="#222" stroke="#222" stroke-width="0.15" textLength="155.44" lengthAdjust="spacing">*Adjusted for gender; stratified by PS, FLIPI</text>
<text transform="translate(0 450) scale(1 1.14)" x="120.66" y="0" font-size="7.22" fill="#1a1a1a" stroke="#1a1a1a" stroke-width="0.4" textLength="45.62" lengthAdjust="spacing">Events/total</text>
<text transform="translate(0 450) scale(1 1.14)" x="168.81" y="0" font-size="7.22" fill="#1a1a1a" stroke="#1a1a1a" stroke-width="0.4" textLength="61.14" lengthAdjust="spacing">Median (95% CI)</text>
<text transform="translate(0 450) scale(1 1.14)" x="236.21" y="0" font-size="7.22" fill="#1a1a1a" stroke="#1a1a1a" stroke-width="0.4" textLength="48.74" lengthAdjust="spacing">HR* (95% CI)</text>
<text transform="translate(0 450) scale(1 1.14)" x="291.94" y="0" font-size="7.22" fill="#1a1a1a" stroke="#1a1a1a" stroke-width="0.4" textLength="40.71" lengthAdjust="spacing">Time-point</text>
<text transform="translate(0 450) scale(1 1.14)" x="350.01" y="0" font-size="7.22" fill="#1a1a1a" stroke="#1a1a1a" stroke-width="0.4" textLength="61.14" lengthAdjust="spacing">KM Est (95% CI)</text>
<rect x="66.2" y="461.8" width="12.6" height="1.6" fill="#c8243c"/>
<rect x="66.2" y="481.2" width="12.6" height="1.6" fill="#23609a"/>
<line x1="66.2" y1="502" x2="78.8" y2="502" stroke="#2ea33e" stroke-width="1.2" stroke-dasharray="1 1"/>
<text transform="translate(0 465.3) scale(1 1.09)" x="82.17" y="0" font-size="7.73" fill="#c41a35" stroke="#c41a35" stroke-width="0.15" textLength="24.4" lengthAdjust="spacing">No-PD</text>
<text x="82.16" y="484.8" font-size="8.4" fill="#20609c" textLength="10.81" lengthAdjust="spacingAndGlyphs" stroke="#20609c" stroke-width="0.12">PD</text>
<text transform="translate(0 504.4) scale(1 1.09)" x="82.78" y="0" font-size="7.73" fill="#32aa42" stroke="#32aa42" stroke-width="0.15" textLength="39.79" lengthAdjust="spacing">All patients</text>
<text transform="translate(0 465.3) scale(1 1.09)" x="127.61" y="0" font-size="7.73" fill="#c41a35" stroke="#c41a35" stroke-width="0.15" textLength="34.02" lengthAdjust="spacing">275/1421</text>
<text transform="translate(0 465.3) scale(1 1.09)" x="171.51" y="0" font-size="7.73" fill="#c41a35" stroke="#c41a35" stroke-width="0.15" textLength="50.97" lengthAdjust="spacing">17.9 (17.5-NE)</text>
<text transform="translate(0 465.3) scale(1 1.09)" x="242.37" y="0" font-size="7.73" fill="#c41a35" stroke="#c41a35" stroke-width="0.15" textLength="35.98" lengthAdjust="spacing">Reference</text>
<text transform="translate(0 484.8) scale(1 1.09)" x="130.36" y="0" font-size="7.73" fill="#20609c" stroke="#20609c" stroke-width="0.15" textLength="29.94" lengthAdjust="spacing">281/620</text>
<text transform="translate(0 484.8) scale(1 1.09)" x="172.64" y="0" font-size="7.73" fill="#20609c" stroke="#20609c" stroke-width="0.15" textLength="47.64" lengthAdjust="spacing">9.7 (8.5-12.1)</text>
<text transform="translate(0 484.8) scale(1 1.09)" x="231.81" y="0" font-size="7.73" fill="#20609c" stroke="#20609c" stroke-width="0.15" textLength="57.47" lengthAdjust="spacing">2.63 (2.22, 3.12)</text>
<text transform="translate(0 504.4) scale(1 1.09)" x="128.44" y="0" font-size="7.73" fill="#32aa42" stroke="#32aa42" stroke-width="0.15" textLength="33.19" lengthAdjust="spacing">556/2041</text>
<text transform="translate(0 504.4) scale(1 1.09)" x="171.51" y="0" font-size="7.73" fill="#32aa42" stroke="#32aa42" stroke-width="0.15" textLength="50.97" lengthAdjust="spacing">17.5 (14.8-NE)</text>
<text transform="translate(0 465.4) scale(1 1.09)" x="299.61" y="0" font-size="7.73" fill="#c41a35" stroke="#c41a35" stroke-width="0.15" textLength="25.97" lengthAdjust="spacing">3 years</text>
<text transform="translate(0 465.4) scale(1 1.09)" x="348.94" y="0" font-size="7.73" fill="#c41a35" stroke="#c41a35" stroke-width="0.15" textLength="62.74" lengthAdjust="spacing">97.5 (96.6-98.2%)</text>
<text transform="translate(0 475.1) scale(1 1.09)" x="299.59" y="0" font-size="7.73" fill="#c41a35" stroke="#c41a35" stroke-width="0.15" textLength="25.99" lengthAdjust="spacing">5 years</text>
<text transform="translate(0 475.1) scale(1 1.09)" x="348.94" y="0" font-size="7.73" fill="#c41a35" stroke="#c41a35" stroke-width="0.15" textLength="62.74" lengthAdjust="spacing">91.2 (89.6-92.6%)</text>
<text transform="translate(0 484.8) scale(1 1.09)" x="299.61" y="0" font-size="7.73" fill="#20609c" stroke="#20609c" stroke-width="0.15" textLength="25.97" lengthAdjust="spacing">3 years</text>
<text transform="translate(0 484.8) scale(1 1.09)" x="348.96" y="0" font-size="7.73" fill="#20609c" stroke="#20609c" stroke-width="0.15" textLength="62.72" lengthAdjust="spacing">84.1 (81.0-86.8%)</text>
<text transform="translate(0 494.5) scale(1 1.09)" x="299.59" y="0" font-size="7.73" fill="#20609c" stroke="#20609c" stroke-width="0.15" textLength="25.99" lengthAdjust="spacing">5 years</text>
<text transform="translate(0 494.5) scale(1 1.09)" x="348.91" y="0" font-size="7.73" fill="#20609c" stroke="#20609c" stroke-width="0.15" textLength="62.77" lengthAdjust="spacing">66.9 (63.0-70.5%)</text>
<text transform="translate(0 504.2) scale(1 1.09)" x="299.61" y="0" font-size="7.73" fill="#32aa42" stroke="#32aa42" stroke-width="0.15" textLength="25.97" lengthAdjust="spacing">3 years</text>
<text transform="translate(0 504.2) scale(1 1.09)" x="348.94" y="0" font-size="7.73" fill="#32aa42" stroke="#32aa42" stroke-width="0.15" textLength="62.74" lengthAdjust="spacing">93.4 (92.3-94.4%)</text>
<text transform="translate(0 513.9) scale(1 1.09)" x="299.59" y="0" font-size="7.73" fill="#32aa42" stroke="#32aa42" stroke-width="0.15" textLength="25.99" lengthAdjust="spacing">5 years</text>
<text transform="translate(0 513.9) scale(1 1.09)" x="348.96" y="0" font-size="7.73" fill="#32aa42" stroke="#32aa42" stroke-width="0.15" textLength="62.72" lengthAdjust="spacing">83.7 (82.0-85.3%)</text>
<rect x="0" y="0" width="520" height="1.2" fill="#141414"/>
<rect x="0" y="0" width="1.2" height="615" fill="#141414"/>
<rect x="518.6" y="0" width="1.4" height="615" fill="#141414"/>
<rect x="0" y="613.5" width="520" height="1.5" fill="#141414"/>
</svg>
</body></html>
